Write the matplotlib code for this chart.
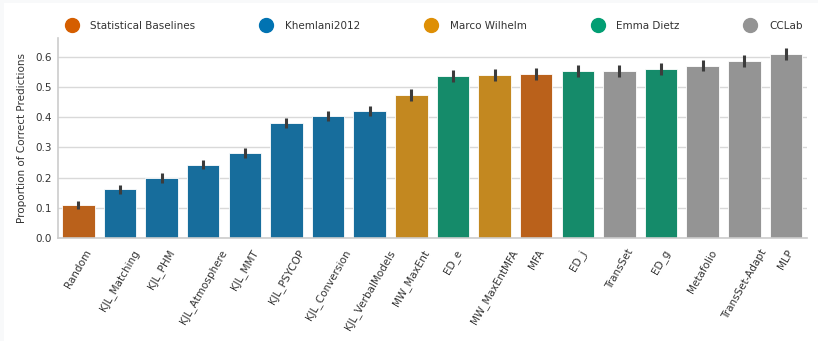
import matplotlib
matplotlib.use("Agg")
import matplotlib.pyplot as plt
import seaborn as sns
from matplotlib.lines import Line2D
from matplotlib.patches import Rectangle

# data
models = ["Random", "KJL_Matching", "KJL_PHM", "KJL_Atmosphere", "KJL_MMT",
          "KJL_PSYCOP", "KJL_Conversion", "KJL_VerbalModels", "MW_MaxEnt",
          "ED_e", "MW_MaxEntMFA", "MFA", "ED_j", "TransSet", "ED_g",
          "Metafolio", "TransSet-Adapt", "MLP"]
scores = [0.110, 0.161, 0.199, 0.243, 0.282, 0.381, 0.404, 0.420, 0.473,
          0.537, 0.540, 0.544, 0.553, 0.553, 0.560, 0.571, 0.586, 0.610]
errs = [0.014, 0.016, 0.016, 0.016, 0.017, 0.017, 0.017, 0.016, 0.019,
        0.019, 0.019, 0.019, 0.019, 0.019, 0.019, 0.019, 0.019, 0.019]
groups = ["Statistical Baselines", "Khemlani2012", "Khemlani2012", "Khemlani2012",
          "Khemlani2012", "Khemlani2012", "Khemlani2012", "Khemlani2012",
          "Marco Wilhelm", "Emma Dietz", "Marco Wilhelm", "Statistical Baselines",
          "Emma Dietz", "CCLab", "Emma Dietz", "CCLab", "CCLab", "CCLab"]
group_names = ["Statistical Baselines", "Khemlani2012", "Marco Wilhelm",
               "Emma Dietz", "CCLab"]
group_colors = ["#d55e00", "#0173b2", "#de8f05", "#029e73", "#949494"]

sns.set_style("whitegrid")
plt.rcParams["font.family"] = ["DejaVu Sans"]

fig = plt.figure(figsize=(8.18, 3.41), dpi=100)
fig.patch.set_facecolor("#f8f9fa")
fig.patches.append(Rectangle((4 / 818, 0), 1, 1 - 3 / 341, transform=fig.transFigure,
                             facecolor="white", edgecolor="none", zorder=-1))
ax = fig.add_axes([0.0703, 0.302, 0.916, 0.587])

cmap = dict(zip(group_names, group_colors))
bar_colors = [sns.desaturate(cmap[g], 0.75) for g in groups]
xs = range(len(models))
ax.bar(xs, scores, width=0.78, color=bar_colors, edgecolor="white", linewidth=0.6, zorder=2)
ax.errorbar(xs, scores, yerr=errs, fmt="none", ecolor="#3c3c3c", elinewidth=2.2, capsize=0, zorder=3)

ax.set_xlim(-0.5, len(models) - 0.5)
ax.set_ylim(0, 0.663)
ax.set_yticks([0, 0.1, 0.2, 0.3, 0.4, 0.5, 0.6])
ax.set_xticks(list(xs))
ax.set_xticklabels(models, rotation=60, ha="center", fontsize=7.5, color="#333333")
ax.tick_params(axis="y", labelsize=7.5, labelcolor="#333333", length=0, pad=4)
ax.tick_params(axis="x", length=0, pad=7)
ax.set_ylabel("Proportion of Correct Predictions", fontsize=7.5, color="#333333", labelpad=6)
ax.grid(axis="x", visible=False)
ax.grid(axis="y", color="#d9d9d9", linewidth=1)
ax.set_axisbelow(True)
for s in ["top", "right"]:
    ax.spines[s].set_visible(False)
for s in ["left", "bottom"]:
    ax.spines[s].set_color("#cccccc")
    ax.spines[s].set_linewidth(1.2)

handles = [Line2D([], [], marker="o", linestyle="none", markersize=10,
                  markerfacecolor=c, markeredgecolor=c) for c in group_colors]
fig.legend(handles, group_names, loc="center", bbox_to_anchor=(0.528, 0.925), ncol=5,
           frameon=False, fontsize=7.5, columnspacing=5.8, handletextpad=0.8,
           labelcolor="#333333")

plt.savefig("out.png", dpi=100, facecolor=fig.get_facecolor())
